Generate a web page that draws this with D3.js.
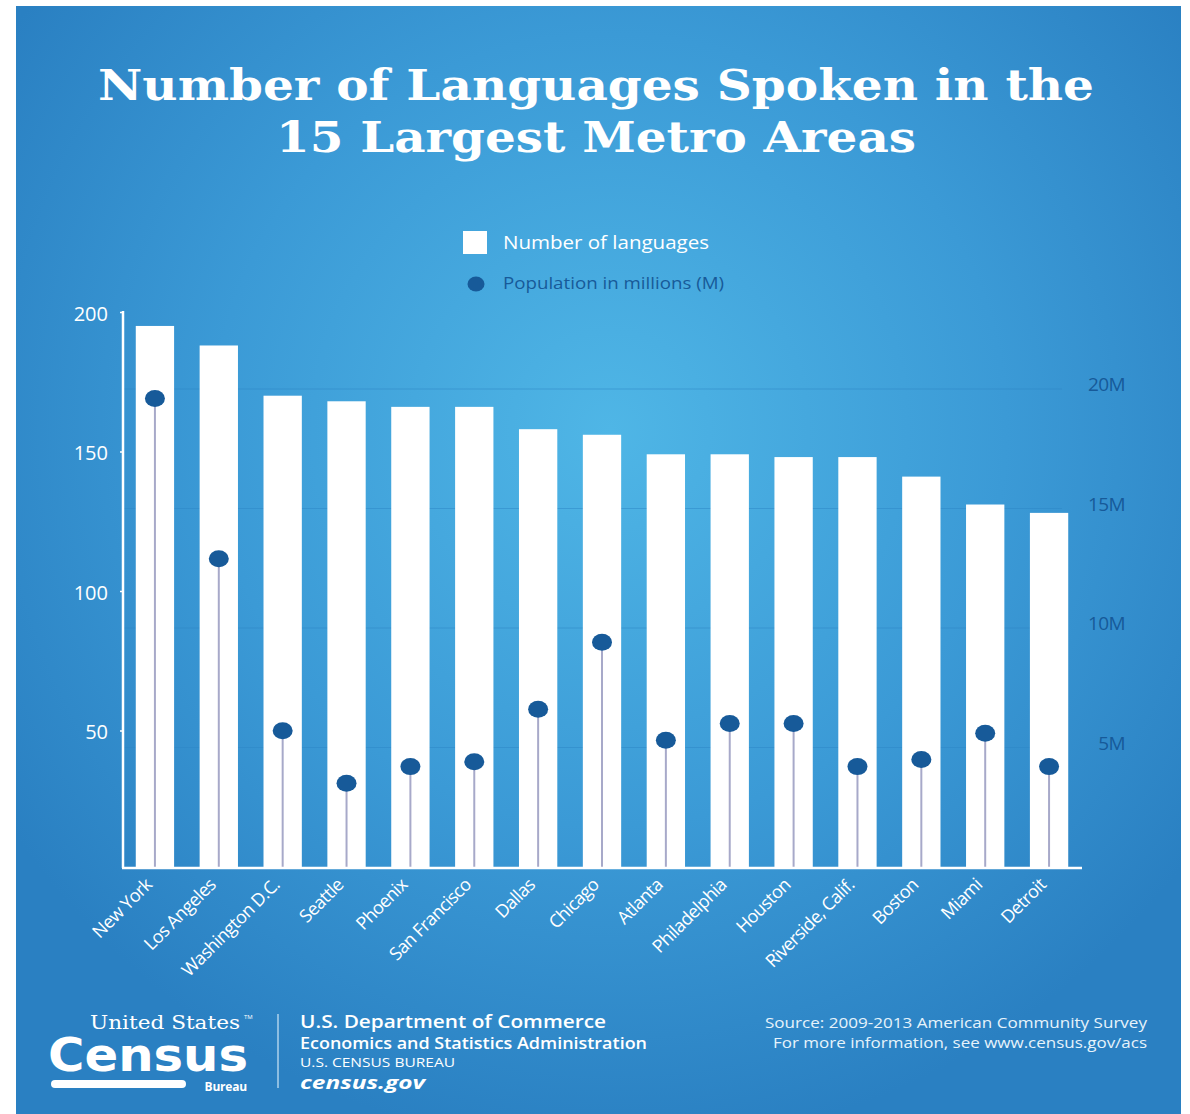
<!DOCTYPE html>
<html>
<head>
<meta charset="utf-8">
<script src="https://cdn.jsdelivr.net/npm/d3@7"></script>
<style>
  body { margin: 0; background: #fff; }
  text { font-family: "Open Sans", "Noto Sans", sans-serif; }
</style>
</head>
<body>
<div id="chart"></div>
<script>
// data
var metros = ['New York', 'Los Angeles', 'Washington D.C.', 'Seattle', 'Phoenix', 'San Francisco',
  'Dallas', 'Chicago', 'Atlanta', 'Philadelphia', 'Houston', 'Riverside, Calif.', 'Boston', 'Miami', 'Detroit'];
var languages = [195, 188, 170, 168, 166, 166, 158, 156, 149, 149, 148, 148, 141, 131, 128];
var population = [19.6, 12.9, 5.7, 3.5, 4.2, 4.4, 6.6, 9.4, 5.3, 6.0, 6.0, 4.2, 4.5, 5.6, 4.2];
var langTicks = [50, 100, 150, 200];
var popTicks = [5, 10, 15, 20];

var width = 1190, height = 1114;
var margin = { top: 311, right: 108, bottom: 246, left: 123 };

var svg = d3.select('#chart').append('svg')
  .attr('width', width)
  .attr('height', height);

// background panel with radial gradient
var defs = svg.append('defs');
var grad = defs.append('radialGradient')
  .attr('id', 'bg')
  .attr('gradientUnits', 'userSpaceOnUse')
  .attr('cx', 610).attr('cy', 430).attr('r', 720);
grad.append('stop').attr('offset', '0%').attr('stop-color', '#4fb6e6');
grad.append('stop').attr('offset', '55%').attr('stop-color', '#3b9ad6');
grad.append('stop').attr('offset', '100%').attr('stop-color', '#2a80c2');

svg.append('rect')
  .attr('x', 16).attr('y', 6)
  .attr('width', 1165).attr('height', height - 6)
  .attr('fill', 'url(#bg)');

// title
var titleLines = ['Number of Languages Spoken in the', '15 Largest Metro Areas'];
var titleLen = [996, 640];
svg.selectAll('.title')
  .data(titleLines)
  .enter().append('text')
  .attr('class', 'title')
  .attr('x', 596)
  .attr('y', function (d, i) { return 100 + i * 52; })
  .attr('text-anchor', 'middle')
  .attr('textLength', function (d, i) { return titleLen[i]; })
  .attr('lengthAdjust', 'spacingAndGlyphs')
  .style('font-family', '"DejaVu Serif", serif')
  .style('font-weight', 'bold')
  .style('font-size', '42px')
  .attr('fill', '#fff')
  .text(function (d) { return d; });

// legend
svg.append('rect')
  .attr('x', 463).attr('y', 231)
  .attr('width', 24).attr('height', 23)
  .attr('fill', '#fff');
svg.append('text')
  .attr('x', 503).attr('y', 249)
  .attr('fill', '#fff')
  .style('font-size', '18px')
  .attr('textLength', 206)
  .attr('lengthAdjust', 'spacingAndGlyphs')
  .text('Number of languages');
svg.append('ellipse')
  .attr('cx', 476).attr('cy', 284)
  .attr('rx', 8.5).attr('ry', 7.5)
  .attr('fill', '#175a99');
svg.append('text')
  .attr('x', 503).attr('y', 289)
  .attr('fill', '#175a99')
  .style('font-size', '16px')
  .attr('textLength', 221)
  .attr('lengthAdjust', 'spacingAndGlyphs')
  .text('Population in millions (M)');

var baseY = 868;

var x = d3.scaleBand()
  .domain(metros)
  .range([margin.left, width - margin.right - 1])
  .paddingInner(0.4)
  .paddingOuter(0.2);

var yLang = d3.scaleLinear()
  .domain([0, 200])
  .range([870, 312]);

var yPop = d3.scaleLinear()
  .domain([0, 20])
  .range([867, 389]);

// faint gridlines at population ticks
svg.append('g')
  .selectAll('line')
  .data(popTicks)
  .enter().append('line')
  .attr('x1', margin.left).attr('x2', width - margin.right - 20)
  .attr('y1', function (d) { return yPop(d); })
  .attr('y2', function (d) { return yPop(d); })
  .attr('stroke', '#2b86c6')
  .attr('stroke-opacity', 0.5)
  .attr('stroke-width', 1);

// bars
svg.append('g')
  .selectAll('rect')
  .data(languages)
  .enter().append('rect')
  .attr('x', function (d, i) { return x(metros[i]); })
  .attr('y', function (d) { return yLang(d); })
  .attr('width', x.bandwidth())
  .attr('height', function (d) { return baseY - yLang(d); })
  .attr('fill', '#fff');

// population stems and dots
var cx = function (i) { return x(metros[i]) + x.bandwidth() / 2; };
svg.append('g')
  .selectAll('line')
  .data(population)
  .enter().append('line')
  .attr('x1', function (d, i) { return cx(i); })
  .attr('x2', function (d, i) { return cx(i); })
  .attr('y1', function (d) { return yPop(d); })
  .attr('y2', baseY)
  .attr('stroke', '#a7a9c9')
  .attr('stroke-width', 2);

svg.append('g')
  .selectAll('ellipse')
  .data(population)
  .enter().append('ellipse')
  .attr('cx', function (d, i) { return cx(i); })
  .attr('cy', function (d) { return yPop(d); })
  .attr('rx', 10).attr('ry', 8.5)
  .attr('fill', '#175a99');

// left axis
var leftAxis = svg.append('g')
  .attr('transform', 'translate(' + margin.left + ',0)')
  .call(d3.axisLeft(yLang).tickValues(langTicks).tickSize(3).tickPadding(12));
leftAxis.select('.domain').attr('d', 'M0,' + 311 + 'V' + baseY).attr('stroke', '#fff').attr('stroke-width', 2.5);
leftAxis.selectAll('.tick line').attr('stroke', '#fff').attr('stroke-width', 1.5);
leftAxis.selectAll('.tick text')
  .attr('fill', '#fff')
  .attr('dy', '0.4em')
  .style('font-size', '20px')
  .style('font-family', '"Open Sans", sans-serif');

// baseline
svg.append('line')
  .attr('x1', margin.left - 1).attr('x2', width - margin.right)
  .attr('y1', baseY).attr('y2', baseY)
  .attr('stroke', '#fff')
  .attr('stroke-width', 2.5);

// right axis labels
var rightAxis = svg.append('g')
  .attr('transform', 'translate(1125,0)')
  .call(d3.axisLeft(yPop).tickValues(popTicks).tickSize(0).tickPadding(0)
    .tickFormat(function (d) { return d + 'M'; }));
rightAxis.select('.domain').remove();
rightAxis.selectAll('.tick text')
  .attr('fill', '#175a99')
  .attr('dy', '0.1em')
  .style('font-size', '19px')
  .style('letter-spacing', '-0.6px')
  .style('font-family', '"Open Sans", sans-serif');

// category labels
svg.append('g')
  .selectAll('text')
  .data(metros)
  .enter().append('text')
  .attr('transform', function (d, i) { return 'translate(' + (cx(i) - 2) + ',' + (baseY + 18) + ') rotate(-45)'; })
  .attr('text-anchor', 'end')
  .attr('fill', '#fff')
  .style('font-size', '18px')
  .style('letter-spacing', '-0.6px')
  .text(function (d) { return d; });

// footer: logo
var logo = svg.append('g');
logo.append('text')
  .attr('x', 240).attr('y', 1029)
  .attr('text-anchor', 'end')
  .attr('fill', '#fff')
  .style('font-family', '"DejaVu Serif", serif')
  .style('font-size', '18px')
  .attr('textLength', 150)
  .attr('lengthAdjust', 'spacingAndGlyphs')
  .text('United States');
logo.append('text')
  .attr('x', 244).attr('y', 1019)
  .attr('fill', '#fff')
  .style('font-size', '6px')
  .text('TM');
logo.append('text')
  .attr('x', 48).attr('y', 1071)
  .attr('fill', '#fff')
  .style('font-family', '"DejaVu Sans", sans-serif')
  .style('font-weight', 'bold')
  .style('font-size', '46px')
  .attr('textLength', 200)
  .attr('lengthAdjust', 'spacingAndGlyphs')
  .text('Census');
logo.append('line')
  .attr('x1', 55).attr('x2', 182)
  .attr('y1', 1084).attr('y2', 1084)
  .attr('stroke', '#fff')
  .attr('stroke-width', 8)
  .attr('stroke-linecap', 'round');
logo.append('text')
  .attr('x', 247).attr('y', 1091)
  .attr('text-anchor', 'end')
  .attr('fill', '#fff')
  .style('font-weight', 'bold')
  .style('font-size', '12px')
  .style('letter-spacing', '-0.2px')
  .text('Bureau');
svg.append('line')
  .attr('x1', 278).attr('x2', 278)
  .attr('y1', 1014).attr('y2', 1088)
  .attr('stroke', '#cfe6f6')
  .attr('stroke-width', 1.2);

var dept = [
  { t: 'U.S. Department of Commerce', y: 1028, s: 18, w: 600, st: 'normal', len: 306 },
  { t: 'Economics and Statistics Administration', y: 1049, s: 15.5, w: 600, st: 'normal', len: 347 },
  { t: 'U.S. CENSUS BUREAU', y: 1067, s: 12, w: 'normal', st: 'normal', len: 155 },
  { t: 'census.gov', y: 1089, s: 17.5, w: 'bold', st: 'italic', len: 125 }
];
svg.append('g')
  .selectAll('text')
  .data(dept)
  .enter().append('text')
  .attr('x', 300)
  .attr('y', function (d) { return d.y; })
  .attr('fill', '#fff')
  .style('font-size', function (d) { return d.s + 'px'; })
  .style('font-weight', function (d) { return d.w; })
  .style('font-style', function (d) { return d.st; })
  .attr('textLength', function (d) { return d.len; })
  .attr('lengthAdjust', 'spacingAndGlyphs')
  .text(function (d) { return d.t; });

var source = ['Source: 2009-2013 American Community Survey', 'For more information, see www.census.gov/acs'];
var sourceLen = [382, 374];
svg.append('g')
  .selectAll('text')
  .data(source)
  .enter().append('text')
  .attr('x', 1147)
  .attr('y', function (d, i) { return 1028 + i * 20; })
  .attr('text-anchor', 'end')
  .attr('fill', '#e6f3fb')
  .style('font-size', '15px')
  .attr('textLength', function (d, i) { return sourceLen[i]; })
  .attr('lengthAdjust', 'spacingAndGlyphs')
  .text(function (d) { return d; });
</script>
</body>
</html>
